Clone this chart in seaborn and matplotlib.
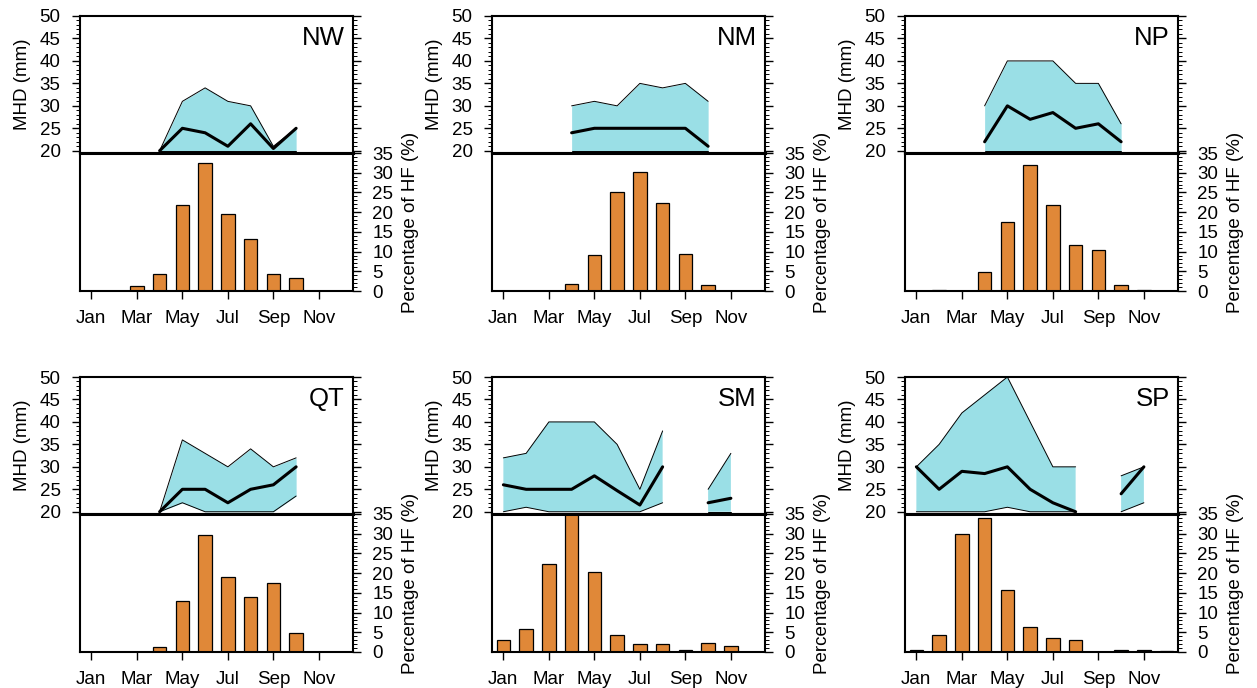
import numpy as np
import matplotlib
matplotlib.use("Agg")
import matplotlib.pyplot as plt
import seaborn as sns
from matplotlib.ticker import MultipleLocator

nan = np.nan
months = list(range(1, 13))
tick_months = [1, 3, 5, 7, 9, 11]
tick_labels = ["Jan", "Mar", "May", "Jul", "Sep", "Nov"]
regions = ["NW", "NM", "NP", "QT", "SM", "SP"]

# MHD (mm): median line, upper and lower bounds of the shaded band
nw_mhd = [nan, nan, nan, 20, 25, 24, 21, 26, 20.5, 25, nan, nan]
nw_upper = [nan, nan, nan, 20, 31, 34, 31, 30, 21, 25, nan, nan]
nw_lower = [nan, nan, nan, 20, 20, 20, 20, 20, 20, 20, nan, nan]
nw_hf = [0, 0, 1.2, 4.4, 21.7, 32.5, 19.5, 13.1, 4.4, 3.3, 0, 0]

nm_mhd = [nan, nan, nan, 24, 25, 25, 25, 25, 25, 21, nan, nan]
nm_upper = [nan, nan, nan, 30, 31, 30, 35, 34, 35, 31, nan, nan]
nm_lower = [nan, nan, nan, 20, 20, 20, 20, 20, 20, 20, nan, nan]
nm_hf = [0, 0, 0, 1.7, 9.1, 25.2, 30.3, 22.3, 9.4, 1.5, 0, 0]

np_mhd = [nan, nan, nan, 22, 30, 27, 28.5, 25, 26, 22, nan, nan]
np_upper = [nan, nan, nan, 30, 40, 40, 40, 35, 35, 26, nan, nan]
np_lower = [nan, nan, nan, 20, 20, 20, 20, 20, 20, 20, nan, nan]
np_hf = [0, 0.2, 0, 4.8, 17.6, 32.0, 21.7, 11.6, 10.3, 1.4, 0.2, 0]

qt_mhd = [nan, nan, nan, 20, 25, 25, 22, 25, 26, 30, nan, nan]
qt_upper = [nan, nan, nan, 20, 36, 33, 30, 34, 30, 32, nan, nan]
qt_lower = [nan, nan, nan, 20, 22, 20, 20, 20, 20, 23.5, nan, nan]
qt_hf = [0, 0, 0, 1.3, 13.0, 29.8, 18.9, 14.0, 17.6, 4.9, 0, 0]

sm_mhd = [26, 25, 25, 25, 28, 24.7, 21.5, 30, nan, 22, 23, nan]
sm_upper = [32, 33, 40, 40, 40, 35, 25, 38, nan, 25, 33, nan]
sm_lower = [20, 21, 20, 20, 20, 20, 20, 22, nan, 20, 20, nan]
sm_hf = [3.0, 5.8, 22.3, 39.0, 20.4, 4.3, 2.1, 2.0, 0.4, 2.4, 1.5, 0]

sp_mhd = [30, 25, 29, 28.5, 30, 25, 22, 20, nan, 24, 30, nan]
sp_upper = [30, 35, 42, 46, 50, 40, 30, 30, nan, 28, 30, nan]
sp_lower = [20, 20, 20, 20, 21, 20, 20, 20, nan, 20, 22, nan]
sp_hf = [0.5, 4.3, 29.9, 34.1, 15.6, 6.4, 3.5, 3.1, 0, 0.5, 0.5, 0.2]

panels = {
    "NW": (nw_mhd, nw_upper, nw_lower, nw_hf),
    "NM": (nm_mhd, nm_upper, nm_lower, nm_hf),
    "NP": (np_mhd, np_upper, np_lower, np_hf),
    "QT": (qt_mhd, qt_upper, qt_lower, qt_hf),
    "SM": (sm_mhd, sm_upper, sm_lower, sm_hf),
    "SP": (sp_mhd, sp_upper, sp_lower, sp_hf),
}

sns.set_style("white")
plt.rcParams["font.family"] = ["Liberation Sans", "DejaVu Sans"]
plt.rcParams["font.size"] = 13
plt.rcParams["text.color"] = "black"
plt.rcParams["axes.labelcolor"] = "black"
plt.rcParams["xtick.color"] = "black"
plt.rcParams["ytick.color"] = "black"

BAND = "#9ADFE6"
BAR = "#E08838"
FS = 13.5

fig = plt.figure(figsize=(12.57, 6.88), dpi=100)
W, H = 1257, 688
col_left = [80, 492, 905]
col_w = 273
row_top = [16, 377]
top_h = 137
bot_h = 138


def segments(x, y):
    segs, cur = [], []
    for xi, yi in zip(x, y):
        if np.isnan(yi):
            if cur:
                segs.append(cur)
            cur = []
        else:
            cur.append((xi, yi))
    if cur:
        segs.append(cur)
    return segs


def seg_line(ax, x, y, lw, color="black"):
    for s in segments(x, y):
        xs = [p[0] for p in s]
        ys = [p[1] for p in s]
        sns.lineplot(x=xs, y=ys, color=color, linewidth=lw, ax=ax,
                     sort=False, estimator=None, clip_on=False)


for i, reg in enumerate(regions):
    r, c = divmod(i, 3)
    mhd, up, lo, hf = panels[reg]
    left = col_left[c] / W
    top_px = row_top[r]
    ax_t = fig.add_axes([left, 1 - (top_px + top_h) / H, col_w / W, top_h / H])
    ax_b = fig.add_axes([left, 1 - (top_px + top_h + bot_h) / H, col_w / W, bot_h / H])

    # top: band + median line
    ax_t.fill_between(months, np.array(lo, float), np.array(up, float),
                      color=BAND, linewidth=0, zorder=1)
    seg_line(ax_t, months, np.array(up, float), 0.7)
    seg_line(ax_t, months, np.array(lo, float), 0.7)
    seg_line(ax_t, months, np.array(mhd, float), 2.2)
    ax_t.set_xlim(0.5, 12.5)
    ax_t.set_ylim(19.5, 50)
    ax_t.set_yticks([20, 25, 30, 35, 40, 45, 50])
    ax_t.yaxis.set_minor_locator(MultipleLocator(1))
    ax_t.set_xticks([])
    ax_t.tick_params(axis="y", which="major", direction="out", length=6, width=1,
                     left=True, right=True, labelleft=True, labelright=False,
                     labelsize=FS, pad=8)
    ax_t.tick_params(axis="y", which="minor", direction="out", length=3, width=0.7,
                     left=True, right=True)
    ax_t.set_ylabel("MHD (mm)", fontsize=FS, labelpad=6)
    ax_t.set_xlabel("")
    for sp in ax_t.spines.values():
        sp.set_linewidth(1.5)
        sp.set_color("black")
    ax_t.spines["bottom"].set_linewidth(2.2)
    ax_t.text(0.97, 0.93, reg, transform=ax_t.transAxes, ha="right", va="top",
              fontsize=18.5)

    # bottom: bars
    sns.barplot(x=months, y=hf, native_scale=True, color=BAR, saturation=1,
                width=0.6, edgecolor="black", linewidth=0.9, errorbar=None,
                ax=ax_b)
    ax_b.set_xlim(0.5, 12.5)
    ax_b.set_ylim(0, 35)
    ax_b.set_xticks(tick_months)
    ax_b.set_xticklabels(tick_labels, fontsize=FS)
    ax_b.yaxis.tick_right()
    ax_b.yaxis.set_label_position("right")
    ax_b.set_yticks([0, 5, 10, 15, 20, 25, 30, 35])
    ax_b.yaxis.set_minor_locator(MultipleLocator(1))
    ax_b.tick_params(axis="y", which="major", direction="out", length=6, width=1,
                     left=False, right=True, labelleft=False, labelright=True,
                     labelsize=FS, pad=8)
    ax_b.tick_params(axis="y", which="minor", direction="out", length=3, width=0.7,
                     left=False, right=True)
    ax_b.tick_params(axis="x", which="major", direction="out", length=6, width=1,
                     bottom=True, top=False, labelsize=FS, pad=8)
    ax_b.set_ylabel("Percentage of HF (%)", fontsize=FS, labelpad=6)
    ax_b.set_xlabel("")
    for sp in ax_b.spines.values():
        sp.set_linewidth(1.5)
        sp.set_color("black")
    ax_b.spines["top"].set_linewidth(2.2)

fig.savefig("out.png", dpi=100)
